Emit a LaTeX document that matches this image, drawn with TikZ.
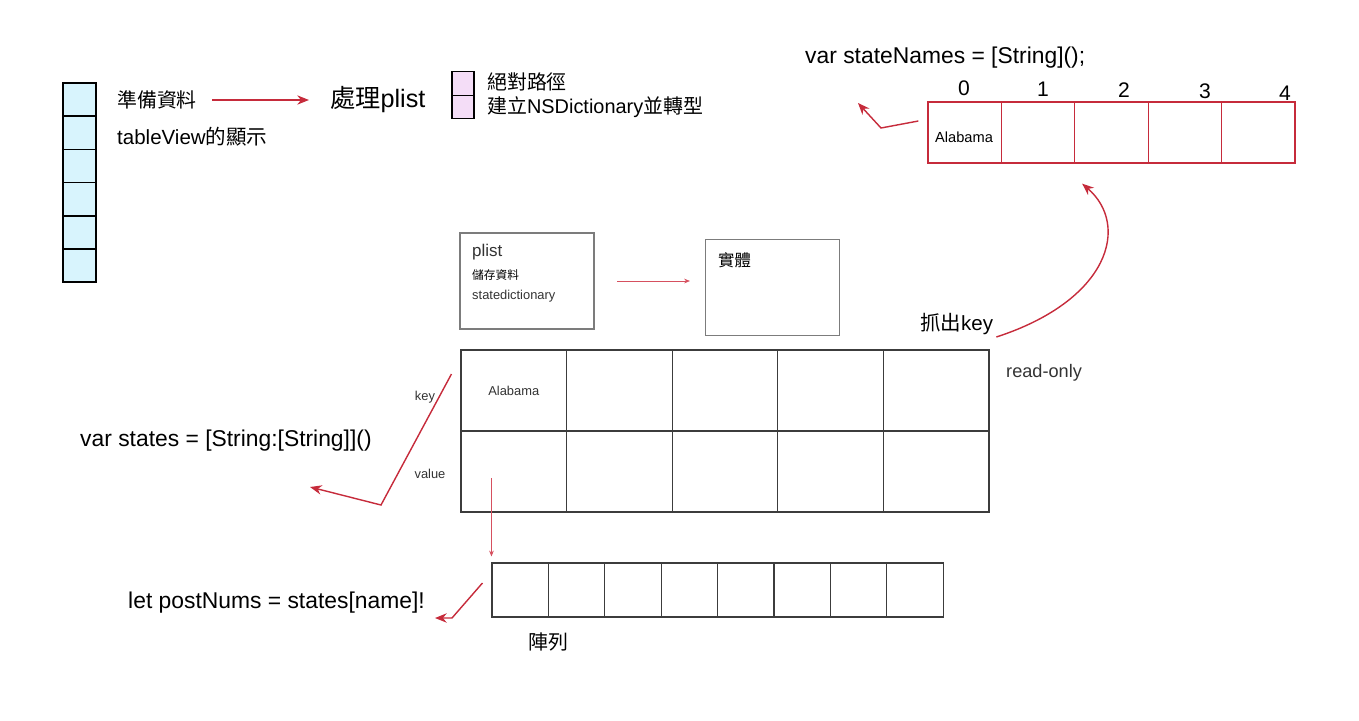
\documentclass[tikz,border=0pt]{standalone}
\usepackage{fontspec}
\setmainfont{Liberation Sans}
\newfontfamily\cjk{Noto Sans CJK TC}
\usetikzlibrary{positioning, arrows.meta}

\definecolor{linkred}{HTML}{C62B3B}
\definecolor{softred}{HTML}{D6505F}
\definecolor{rowcyan}{HTML}{D8F4FD}
\definecolor{boxpink}{HTML}{F4DDF7}
\definecolor{gridgray}{HTML}{3C3C3C}
\definecolor{boxgray}{HTML}{7C7C7C}
\definecolor{labelgray}{HTML}{333333}

\newcommand{\fsz}[1]{\fontsize{#1}{#1}\selectfont}
\newcommand{\zh}[1]{{\cjk #1}}

\tikzset{
  lefttext/.style={inner sep=0pt, anchor=west},
  redarrow/.style={linkred, line width=1.2pt, -{Stealth[length=10pt, width=8pt]}},
  thinarrow/.style={softred, line width=0.6pt, -{Stealth[length=5pt, width=4pt]}},
  rowcell/.style={draw=black, fill=rowcyan, line width=1.5pt, minimum width=0.99cm, minimum height=0.996cm, inner sep=0pt},
  pinkcell/.style={draw=black, fill=boxpink, line width=0.9pt, minimum width=0.66cm, minimum height=0.705cm, inner sep=0pt},
  namecell/.style={draw=linkred, line width=1.1pt, minimum width=2.202cm, minimum height=1.83cm, inner sep=0pt},
  plistbox/.style={draw=boxgray, line width=0.9pt, minimum width=4.02cm, minimum height=2.88cm, inner sep=0pt},
  dictcell/.style={draw=gridgray, line width=0.9pt, minimum width=3.168cm, minimum height=2.43cm, inner sep=0pt},
  numcell/.style={draw=gridgray, line width=0.9pt, minimum width=1.692cm, minimum height=1.62cm, inner sep=0pt},
}

\begin{document}
\begin{tikzpicture}[x=0.03cm, y=-0.03cm]
    \useasboundingbox (0,0) rectangle (1359,720);

    % Table view rows
    \foreach \i in {0,...,5} {
      \node[rowcell] (row\i) at (79.5,{99.6+33.2*\i}) {};
    }
    \node[lefttext, font=\fsz{17}] (prep) at (117,100) {\zh{準備資料}};
    \node[lefttext, font=\fsz{17.5}] (tvshow) at (117,137) {tableView\zh{的顯示}};
    \node[lefttext, font=\fsz{21.5}] (proc) at (330,100) {\zh{處理}plist};
    \draw[redarrow, line width=0.9pt, shorten <=13pt, shorten >=18pt] (prep.east) -- (proc.west);

    % Steps for plist
    \node[pinkcell] (pk1) at (463,83.5) {};
    \node[pinkcell] (pk2) at (463,107) {};
    \node[lefttext, font=\fsz{17}] (abspath) at (487,82) {\zh{絕對路徑}};
    \node[lefttext, font=\fsz{17}] (mkdict) at (487,107) {\zh{建立}NSDictionary\zh{並轉型}};

    % stateNames array
    \node[lefttext, font=\fsz{19.5}] (snames) at (805,58) {var stateNames = [String]();};
    \foreach \i in {0,...,4} {
      \node[namecell] (sn\i) at ({964.7+73.4*\i},132.5) {};
    }
    \node[font=\fsz{12.5}, inner sep=0pt] (snfirst) at (964,137) {Alabama};
    \foreach \i/\x/\y in {0/964/88, 1/1043/89, 2/1124/90, 3/1205/91, 4/1285/93} {
      \node[font=\fsz{18}, inner sep=0pt] (idx\i) at (\x,\y) {\i};
    }
    \coordinate (snbend) at (881,128);
    \coordinate (snend) at (858,103);
    \draw[redarrow] ([shift={(-9,-11.5)}]sn0.west) -- (snbend) -- (snend);

    % Key taken out
    \node[lefttext, font=\fsz{17.5}] (grab) at (920,324) {\zh{抓出}key};
    \draw[redarrow] ([shift={(3,13)}]grab.east) .. controls (1110,300) and (1130,225) .. ([shift={(8,20)}]sn2.south west);

    % plist and entity boxes
    \node[plistbox] (plist) at (527,281) {};
    \node[lefttext, font=\fsz{14.5}, labelgray] (plname) at (472,252) {plist};
    \node[lefttext, font=\fsz{10}] (plstore) at (472,275) {\zh{儲存資料}};
    \node[lefttext, font=\fsz{11}, labelgray] (pldict) at (472,296) {statedictionary};
    \node[plistbox] (entity) at (772.5,287.5) {};
    \node[lefttext, font=\fsz{14}] (entname) at (718,260) {\zh{實體}};
    \draw[thinarrow, shorten <=19.6pt, shorten >=12.8pt] (plist.east) -- (plist.east -| entity.west);

    % Dictionary grid
    \foreach \c in {0,...,4} {
      \foreach \r in {0,1} {
        \node[dictcell] (dict-\r-\c) at ({513.8+105.6*\c},{390.5+81*\r}) {};
      }
    }
    \node[font=\fsz{11}, labelgray, inner sep=0pt] (dkey) at (dict-0-0) {Alabama};
    \node[font=\fsz{11}, labelgray, inner sep=0pt] (keylbl) at (425,397) {key};
    \node[font=\fsz{11}, labelgray, inner sep=0pt] (vallbl) at (430,474) {value};
    \node[lefttext, font=\fsz{15.5}, labelgray] (ronly) at (1006,373) {read-only};
    \node[lefttext, font=\fsz{19.5}] (vstates) at (80,441) {var states = [String:[String]]()};
    \coordinate (dictbend) at (381,505);
    \coordinate (dictend) at (310,487);
    \draw[redarrow] ([shift={(-9,-16.5)}]dict-0-0.west) -- (dictbend) -- (dictend);

    % Value array
    \foreach \i in {0,...,7} {
      \node[numcell] (arr\i) at ({520.2+56.4*\i},590) {};
    }
    \draw[thinarrow] ([shift={(31,6.5)}]dict-1-0.west) -- ([shift={(0,-6)}]arr0.north west);
    \node[font=\fsz{17}, inner sep=0pt] (arrlbl) at (548,642) {\zh{陣列}};
    \node[lefttext, font=\fsz{19.5}] (postnums) at (128,603) {let postNums = states[name]!};
    \coordinate (arrbend) at (452,618);
    \coordinate (arrend) at (435,618);
    \draw[redarrow] ([shift={(-9,-7)}]arr0.west) -- (arrbend) -- (arrend);
\end{tikzpicture}
\end{document}
